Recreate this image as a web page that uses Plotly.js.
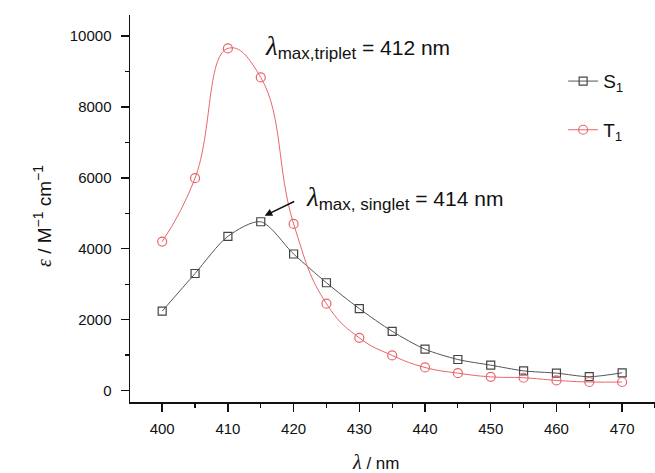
<!DOCTYPE html>
<html>
<head>
<meta charset="utf-8">
<script src="https://cdn.plot.ly/plotly-3.0.1.min.js"></script>
<style>html,body{margin:0;padding:0;background:#fff}#chart{width:655px;height:473px}</style>
</head>
<body>
<div id="chart"></div>
<script>
// Wavelength (nm)
const wavelength = [400, 405, 410, 415, 420, 425, 430, 435, 440, 445, 450, 455, 460, 465, 470];
// Molar absorptivity, singlet S1 (M^-1 cm^-1)
const s1Values = [2240, 3300, 4350, 4760, 3850, 3040, 2310, 1670, 1165, 875, 715, 555, 490, 390, 500];
// Molar absorptivity, triplet T1 (M^-1 cm^-1)
const t1Values = [4200, 5990, 9650, 8830, 4700, 2450, 1485, 990, 650, 490, 385, 360, 285, 240, 240];
const seriesNames = ["S<sub>1</sub>", "T<sub>1</sub>"];
const xTickVals = [400, 410, 420, 430, 440, 450, 460, 470];
const yTickVals = [0, 2000, 4000, 6000, 8000, 10000];

const FONT = "Liberation Sans, Arial, Helvetica, sans-serif";
const SERIF = "Liberation Serif, Times New Roman, serif";

function peakLabel(sub, value) {
  return "<span style='font-family:" + SERIF + ";font-size:27px'><i>λ</i></span>" +
         "<sub><span style='font-size:17px'>" + sub + "</span></sub> = " + value;
}

const traces = [
  {
    x: wavelength, y: s1Values, name: seriesNames[0], legendgroup: "s1",
    type: "scatter", mode: "lines+markers",
    line: {color: "#555555", width: 1, shape: "spline", smoothing: 0.8},
    marker: {symbol: "square-open", size: 8, color: "#444444", line: {width: 1.2}}
  },
  {
    x: wavelength, y: t1Values, name: seriesNames[1], legendgroup: "t1",
    type: "scatter", mode: "lines+markers",
    line: {color: "#e8666a", width: 1, shape: "spline", smoothing: 1.3},
    marker: {symbol: "circle-open", size: 9, color: "#e8666a", line: {width: 1.2}}
  }
];

const layout = {
  width: 655, height: 473,
  margin: {l: 130, r: 0, t: 15, b: 70.5},
  paper_bgcolor: "#ffffff", plot_bgcolor: "#ffffff",
  font: {family: FONT, size: 15, color: "#111"},
  showlegend: true,
  legend: {
    x: 0.825, xanchor: "left", y: 0.878, yanchor: "top",
    bgcolor: "rgba(0,0,0,0)", borderwidth: 0,
    font: {family: FONT, size: 19, color: "#111"},
    traceorder: "grouped", tracegroupgap: 21
  },
  xaxis: {
    range: [395.1, 475.0],
    tickvals: xTickVals, ticktext: xTickVals.map(String),
    ticks: "outside", ticklen: 8, tickwidth: 1.5, tickcolor: "#111",
    minor: {dtick: 5, ticks: "outside", ticklen: 4, tickwidth: 1.2, tickcolor: "#111", showgrid: false},
    showline: true, linecolor: "#111", linewidth: 1.5,
    showgrid: false, zeroline: false,
    tickfont: {family: FONT, size: 15, color: "#111"},
    ticklabelstandoff: 4
  },
  yaxis: {
    range: [-324, 10592],
    tickvals: yTickVals, ticktext: yTickVals.map(String),
    ticks: "outside", ticklen: 8, tickwidth: 1.5, tickcolor: "#111",
    minor: {dtick: 1000, ticks: "outside", ticklen: 4, tickwidth: 1.2, tickcolor: "#111", showgrid: false},
    showline: true, linecolor: "#111", linewidth: 1.5,
    showgrid: false, zeroline: false,
    tickfont: {family: FONT, size: 15, color: "#111"},
    ticklabelstandoff: 6
  },
  annotations: [
    {
      x: 0.467, y: -0.155, xref: "paper", yref: "paper", xanchor: "center", yanchor: "middle",
      text: "<span style='font-family:" + SERIF + ";font-size:20px'><i>λ</i></span> / nm",
      showarrow: false, font: {family: FONT, size: 17, color: "#111"}
    },
    {
      x: -0.168, y: 0.48, xref: "paper", yref: "paper", xanchor: "center", yanchor: "middle",
      textangle: -90,
      text: "<span style='font-family:" + SERIF + ";font-size:20px'><i>ε</i></span> / M<sup><span style='font-size:14px'>−1</span></sup> cm<sup><span style='font-size:14px'>−1</span></sup>",
      showarrow: false, font: {family: FONT, size: 19, color: "#111"}
    },
    {
      x: 415.3, y: 9700, xref: "x", yref: "y", xanchor: "left", yanchor: "middle",
      text: peakLabel("max,triplet", "412 nm"),
      showarrow: false, font: {family: FONT, size: 21, color: "#111"}
    },
    {
      x: 421.6, y: 5430, xref: "x", yref: "y", xanchor: "left", yanchor: "middle",
      text: peakLabel("max, singlet", "414 nm"),
      showarrow: false, font: {family: FONT, size: 21, color: "#111"}
    },
    {
      x: 415.6, y: 4930, xref: "x", yref: "y", text: "",
      showarrow: true, arrowhead: 2, arrowsize: 1, arrowwidth: 1.5, arrowcolor: "#111",
      ax: 31, ay: -15
    }
  ]
};

Plotly.newPlot("chart", traces, layout, {displayModeBar: false, staticPlot: true});
</script>
</body>
</html>
